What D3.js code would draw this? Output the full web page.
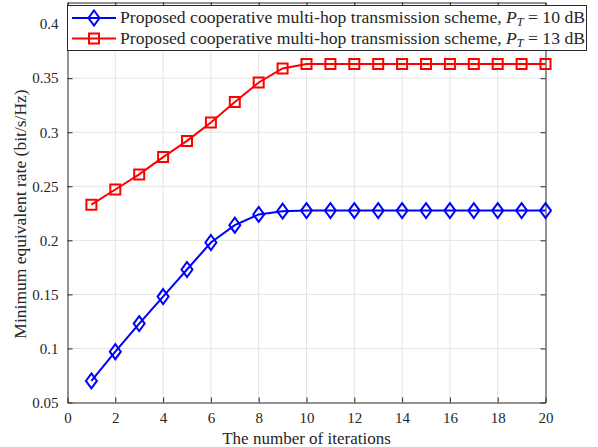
<!DOCTYPE html>
<html>
<head>
<meta charset="utf-8">
<style>
  body { margin: 0; background: #fff; }
  svg text { font-family: "Liberation Serif", "Times New Roman", serif; fill: #262626; }
  .grid line { stroke: #e3e3e3; stroke-width: 1; }
  .axis path, .axis line { stroke: #262626; }
</style>
</head>
<body>
<div id="chart"></div>
<script src="https://cdn.jsdelivr.net/npm/d3@7/dist/d3.min.js"></script>
<script>
// data
var iterations = d3.range(1, 21);
var rate10dB = [0.070, 0.097, 0.123, 0.148, 0.173, 0.198, 0.214, 0.224, 0.227, 0.2275,
                0.2275, 0.2275, 0.2275, 0.2275, 0.2275, 0.2275, 0.2275, 0.2275, 0.2275, 0.2275];
var rate13dB = [0.233, 0.247, 0.261, 0.277, 0.292, 0.309, 0.328, 0.346, 0.359, 0.363,
                0.363, 0.363, 0.363, 0.363, 0.363, 0.363, 0.363, 0.363, 0.363, 0.363];
var xTicks = [0, 2, 4, 6, 8, 10, 12, 14, 16, 18, 20];
var yTicks = [0.05, 0.1, 0.15, 0.2, 0.25, 0.3, 0.35, 0.4];
var seriesNames = ["10", "13"];

var W = 598, H = 447;
var pLeft = 67.5, pRight = 545.5, pTop = 2.5, pBottom = 402.5;

var svg = d3.select('#chart').append('svg')
  .attr('width', W).attr('height', H);

var x = d3.scaleLinear().domain([0, 20]).range([pLeft, pRight]);
var y = d3.scaleLinear().domain([0.05, 0.42]).range([pBottom, pTop]);

// grid
var grid = svg.append('g').attr('class', 'grid');
grid.selectAll('.gx').data(xTicks.slice(1, -1)).enter().append('line')
  .attr('x1', d => x(d)).attr('x2', d => x(d)).attr('y1', pTop).attr('y2', pBottom);
grid.selectAll('.gy').data(yTicks.slice(1)).enter().append('line')
  .attr('x1', pLeft).attr('x2', pRight).attr('y1', d => y(d)).attr('y2', d => y(d));

// axes
svg.append('g').attr('class', 'axis').attr('transform', 'translate(0,' + pBottom + ')')
  .call(d3.axisBottom(x).tickValues(xTicks).tickSize(-5).tickSizeOuter(0).tickPadding(10))
  .call(g => g.selectAll('text').attr('font-size', 15));
svg.append('g').attr('class', 'axis').attr('transform', 'translate(' + pLeft + ',0)')
  .call(d3.axisLeft(y).tickValues(yTicks).tickFormat(d3.format('~g')).tickSize(-5).tickSizeOuter(0).tickPadding(9))
  .call(g => g.selectAll('text').attr('font-size', 15));
svg.append('g').attr('class', 'axis').attr('transform', 'translate(' + pRight + ',0)')
  .call(d3.axisRight(y).tickValues(yTicks).tickSize(-5).tickSizeOuter(0).tickFormat(''));
svg.append('g').attr('class', 'axis').attr('transform', 'translate(0,' + pTop + ')')
  .call(d3.axisTop(x).tickValues(xTicks).tickSize(-5).tickSizeOuter(0).tickFormat(''));

// axis labels
svg.append('text').attr('x', (pLeft + pRight) / 2).attr('y', 444)
  .attr('text-anchor', 'middle').attr('font-size', 17).text('The number of iterations');
svg.append('text').attr('transform', 'translate(26,' + 214 + ') rotate(-90)')
  .attr('text-anchor', 'middle').attr('font-size', 17.5).text('Minimum equivalent rate (bit/s/Hz)');

var line = d3.line().x((d, i) => x(iterations[i])).y(d => y(d));
var diamond = 'M0,-7.5L5.5,0L0,7.5L-5.5,0Z';
var square = 'M-5,-5L5,-5L5,5L-5,5Z';

function drawSeries(vals, color, shape) {
  svg.append('path').datum(vals).attr('d', line)
    .attr('fill', 'none').attr('stroke', color).attr('stroke-width', 2);
  svg.selectAll(null).data(vals).enter().append('path')
    .attr('d', shape)
    .attr('transform', (d, i) => 'translate(' + x(iterations[i]) + ',' + y(d) + ')')
    .attr('fill', 'none').attr('stroke', color).attr('stroke-width', 2);
}
drawSeries(rate10dB, '#0000ff', diamond);
drawSeries(rate13dB, '#ff0000', square);

// legend
var lg = svg.append('g');
lg.append('rect').attr('x', 67.5).attr('y', 5.5).attr('width', 519).attr('height', 45)
  .attr('fill', '#fff').attr('stroke', '#262626').attr('stroke-width', 1);
var items = [[seriesNames[0], '#0000ff', diamond], [seriesNames[1], '#ff0000', square]];
items.forEach(function(it, k) {
  var cy = 18 + k * 20.5;
  lg.append('line').attr('x1', 72).attr('x2', 116).attr('y1', cy).attr('y2', cy)
    .attr('stroke', it[1]).attr('stroke-width', 2);
  lg.append('path').attr('d', it[2]).attr('transform', 'translate(94,' + cy + ')')
    .attr('fill', 'none').attr('stroke', it[1]).attr('stroke-width', 2);
  var t = lg.append('text').attr('x', 120).attr('y', cy + 5).attr('font-size', 17.5)
    .attr('textLength', 465).attr('lengthAdjust', 'spacingAndGlyphs');
  t.append('tspan').text('Proposed cooperative multi-hop transmission scheme, ');
  t.append('tspan').attr('font-style', 'italic').text('P');
  t.append('tspan').attr('font-style', 'italic').attr('font-size', 12).attr('dy', 3).text('T');
  t.append('tspan').attr('dy', -3).text(' = ' + it[0] + ' dB');
});
</script>
</body>
</html>
